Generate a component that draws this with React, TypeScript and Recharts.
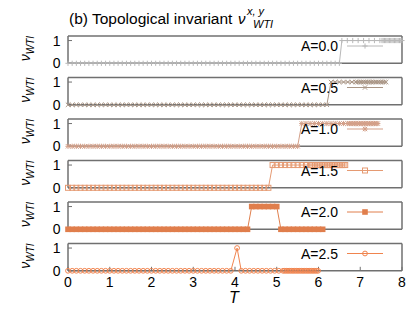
import React from "react";
import { LineChart, Line, XAxis, YAxis } from "recharts";

// common T sampling grid of the low-T part of every run
const T_BASE = [
  0, 0.1, 0.2, 0.3, 0.4, 0.5, 0.6, 0.7, 0.8, 0.9, 1, 1.1, 1.2, 1.3, 1.4, 1.5,
  1.6, 1.7, 1.8, 1.9, 2, 2.1, 2.2, 2.3, 2.4, 2.5, 2.6, 2.7, 2.8, 2.9, 3, 3.1,
  3.2, 3.3, 3.4, 3.5, 3.6, 3.7, 3.8, 3.9, 4, 4.1, 4.2, 4.3, 4.4, 4.5, 4.6, 4.7,
  4.8, 4.9, 5, 5.1, 5.2, 5.3, 5.4, 5.5, 5.6, 5.7, 5.8, 5.9, 6, 6.1, 6.2, 6.3,
  6.4, 6.5,
];

// A = 0.0
const A00_ZERO = T_BASE.filter((t) => t < 6.55);
const A00_ONE = [
  6.56, 6.69, 6.82, 6.95, 7.08, 7.21, 7.34, 7.47, 7.52, 7.55, 7.58, 7.61, 7.64,
  7.67, 7.7, 7.73, 7.76, 7.79, 7.82, 7.85, 7.88, 7.91, 7.94, 7.97, 8,
];

// A = 0.5
const A05_ZERO = T_BASE.filter((t) => t < 6.25);
const A05_ONE = [
  6.3, 6.4, 6.5, 6.6, 6.7, 6.8, 6.9, 6.94, 6.98, 7.02, 7.06, 7.1, 7.14, 7.18,
  7.22, 7.26, 7.3, 7.34, 7.38, 7.42, 7.46, 7.5, 7.54, 7.58, 7.62,
];

// A = 1.0
const A10_ZERO = T_BASE.filter((t) => t < 5.55);
const A10_ONE = [
  5.6, 5.7, 5.8, 5.9, 6, 6.1, 6.2, 6.3, 6.4, 6.5, 6.6, 6.7, 6.74, 6.78, 6.82,
  6.86, 6.9, 6.94, 6.98, 7.02, 7.06, 7.1, 7.14, 7.18, 7.22, 7.26, 7.3, 7.34,
  7.38, 7.42,
];

// A = 1.5
const A15_ZERO = T_BASE.filter((t) => t < 4.85);
const A15_ONE = [
  4.9, 5, 5.1, 5.2, 5.3, 5.4, 5.5, 5.6, 5.7, 5.8, 5.84, 5.88, 5.92, 5.96, 6,
  6.04, 6.08, 6.12, 6.16, 6.2, 6.24, 6.28, 6.32, 6.36, 6.4, 6.44, 6.48, 6.52,
  6.56, 6.6, 6.64,
];

// A = 2.0 (back to 0 above T~5)
const A20_ZERO = T_BASE.filter((t) => t < 4.35 || (t > 5.05 && t < 6.15));
const A20_ONE = T_BASE.filter((t) => t > 4.35 && t < 5.05);

// A = 2.5 (single spike near T~4)
const A25_ZERO = [
  ...T_BASE.filter((t) => t < 3.95),
  4.15, 4.25, 4.35, 4.45, 4.55, 4.65, 4.75, 4.85, 4.95, 5.05, 5.15, 5.19, 5.23,
  5.27, 5.31, 5.35, 5.39, 5.43, 5.47, 5.51, 5.55, 5.59, 5.63, 5.67, 5.71, 5.75,
  5.79, 5.83, 5.87, 5.91, 5.95, 5.99,
];
const A25_ONE = [4.05];

const LABELS = ["A=0.0", "A=0.5", "A=1.0", "A=1.5", "A=2.0", "A=2.5"];
const ZEROS = [A00_ZERO, A05_ZERO, A10_ZERO, A15_ZERO, A20_ZERO, A25_ZERO];
const ONES = [A00_ONE, A05_ONE, A10_ONE, A15_ONE, A20_ONE, A25_ONE];
const X_TICKS = [0, 1, 2, 3, 4, 5, 6, 7, 8];
const Y_TICKS = [0, 1];

type Kind = "plus" | "cross" | "star" | "square" | "fsquare" | "circle";
const COLORS = ["#b8b8b8", "#a99585", "#d39f88", "#e59a72", "#e07e4c", "#f0844e"];
const MARKERS: Kind[] = ["plus", "cross", "star", "square", "fsquare", "circle"];

const FRAME = "#707070";
const FONT = '"Liberation Sans", Arial, Helvetica, sans-serif';
const BOTTOM0 = 63.3;
const PITCH = 41.5;
const PLOT_H = 27.3;

function toPoints(zeros: number[], ones: number[]) {
  return [
    ...zeros.map((t) => ({ t, v: 0 })),
    ...ones.map((t) => ({ t, v: 1 })),
  ].sort((a, b) => a.t - b.t);
}

function Marker({ kind, x, y, color }: { kind: Kind; x?: number; y?: number; color: string }) {
  if (x == null || y == null) return null;
  const h = 2.6;
  const plus = (
    <>
      <line x1={x - h} x2={x + h} y1={y} y2={y} />
      <line x1={x} x2={x} y1={y - h} y2={y + h} />
    </>
  );
  const d = 2.2;
  const cross = (
    <>
      <line x1={x - d} x2={x + d} y1={y - d} y2={y + d} />
      <line x1={x - d} x2={x + d} y1={y + d} y2={y - d} />
    </>
  );
  switch (kind) {
    case "plus":
      return <g stroke={color} strokeWidth={1}>{plus}</g>;
    case "cross":
      return <g stroke={color} strokeWidth={1}>{cross}</g>;
    case "star":
      return <g stroke={color} strokeWidth={1}>{plus}{cross}</g>;
    case "square":
      return <rect x={x - 2.5} y={y - 2.5} width={5} height={5} fill="none" stroke={color} strokeWidth={1} />;
    case "fsquare":
      return <rect x={x - 2.8} y={y - 2.8} width={5.6} height={5.6} fill={color} />;
    default:
      return <circle cx={x} cy={y} r={2.4} fill="none" stroke={color} strokeWidth={1} />;
  }
}

function Panel({ i }: { i: number }) {
  const bottom = BOTTOM0 + PITCH * i;
  const top = bottom - PLOT_H;
  const last = i === LABELS.length - 1;
  const axisH = last ? 40 : 1;
  const mb = last ? 0 : 10;
  const data = toPoints(ZEROS[i], ONES[i]);
  const color = COLORS[i];
  const kind = MARKERS[i];
  return (
    <div style={{ position: "absolute", left: 0, top: 0 }}>
      <LineChart
        width={414}
        height={bottom + axisH + mb}
        margin={{ top: top - 1, right: 11, bottom: mb, left: 48 }}
      >
        <XAxis
          xAxisId="b"
          dataKey="t"
          type="number"
          domain={[0, 8]}
          ticks={X_TICKS}
          interval={0}
          height={axisH}
          stroke={FRAME}
          axisLine={{ stroke: FRAME, strokeWidth: 1.5 }}
          tickLine={{ stroke: FRAME }}
          tickSize={-4}
          tickMargin={10}
          tick={last ? { fontSize: 14, fill: "#000" } : false}
        />
        <XAxis
          xAxisId="t"
          orientation="top"
          type="number"
          domain={[0, 8]}
          allowDataOverflow
          ticks={X_TICKS}
          interval={0}
          height={1}
          stroke={FRAME}
          axisLine={{ stroke: FRAME, strokeWidth: 1.5 }}
          tickLine={{ stroke: FRAME }}
          tickSize={-4}
          tick={false}
        />
        <YAxis
          yAxisId="l"
          type="number"
          domain={[0, 1.2]}
          ticks={Y_TICKS}
          interval={0}
          width={20}
          stroke={FRAME}
          axisLine={{ stroke: FRAME, strokeWidth: 1.5 }}
          tickLine={{ stroke: FRAME }}
          tickSize={-4}
          tickMargin={11.5}
          tick={{ fontSize: 14, fill: "#000" }}
        />
        <YAxis
          yAxisId="r"
          orientation="right"
          type="number"
          domain={[0, 1.2]}
          allowDataOverflow
          ticks={Y_TICKS}
          interval={0}
          width={1}
          stroke={FRAME}
          axisLine={{ stroke: FRAME, strokeWidth: 1.5 }}
          tickLine={{ stroke: FRAME }}
          tickSize={-4}
          tick={false}
        />
        <Line
          xAxisId="b"
          yAxisId="l"
          data={data}
          dataKey="v"
          type="linear"
          stroke={color}
          strokeWidth={1}
          dot={(p: any) => (
            <Marker key={`m${p.index}`} kind={kind} x={p.cx} y={p.cy} color={color} />
          )}
          activeDot={false}
          isAnimationActive={false}
        />
      </LineChart>
    </div>
  );
}

export default function App() {
  return (
    <div
      style={{
        position: "absolute",
        left: 0,
        top: 0,
        width: 414,
        height: 321,
        background: "#fff",
        fontFamily: FONT,
      }}
    >
      {LABELS.map((_, i) => (
        <Panel key={i} i={i} />
      ))}
      <svg
        width={414}
        height={321}
        style={{ position: "absolute", left: 0, top: 0, pointerEvents: "none" }}
        fontFamily={FONT}
      >
        <text x={69} y={23.5} fontSize={15.5}>(b) Topological invariant</text>
        <text x={238} y={23.5} fontSize={15} fontStyle="italic">ν</text>
        <text x={247} y={15} fontSize={11} fontStyle="italic">x, y</text>
        <text x={253} y={28} fontSize={11} fontStyle="italic">WTI</text>

        {LABELS.map((label, i) => {
          const bottom = BOTTOM0 + PITCH * i;
          const mid = bottom - PLOT_H / 2 - 1;
          const ly = 46 + PITCH * i;
          return (
            <g key={label}>
              <text
                transform={`translate(30, ${mid}) rotate(-90)`}
                textAnchor="middle"
                fontSize={14}
                fontStyle="italic"
              >
                ν<tspan dy={4} fontSize={10}>WTI</tspan>
              </text>
              <text x={338} y={ly + 5} textAnchor="end" fontSize={14}>
                {label}
              </text>
              <line x1={347} x2={383} y1={ly} y2={ly} stroke={COLORS[i]} strokeWidth={1} />
              <Marker kind={MARKERS[i]} x={365} y={ly} color={COLORS[i]} />
            </g>
          );
        })}

        <text x={234} y={303} textAnchor="middle" fontSize={16} fontStyle="italic">
          T
        </text>
      </svg>
    </div>
  );
}
